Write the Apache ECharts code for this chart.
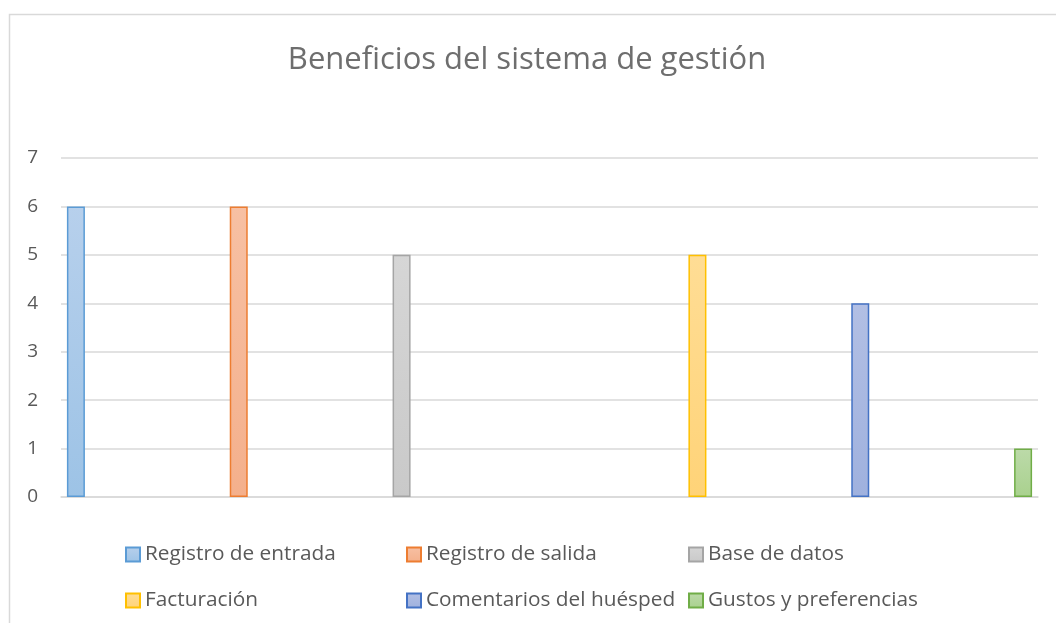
<!DOCTYPE html>
<html>
<head>
<meta charset="utf-8">
<script src="https://cdn.jsdelivr.net/npm/echarts@6/dist/echarts.min.js"></script>
<style>
html,body{margin:0;padding:0;background:#fff;}
#c{width:1056px;height:623px;}
</style>
</head>
<body>
<div id="c"></div>
<script>
const titleText = 'Beneficios del sistema de gestión';
const categories = ['c1', 'c2', 'c3', 'c4', 'c5', 'c6'];
const seriesNames = ['Registro de entrada', 'Registro de salida', 'Base de datos', 'Facturación', 'Comentarios del huésped', 'Gustos y preferencias'];
const seriesValues = [6, 6, 5, 5, 4, 1];
const yTicks = [0, 1, 2, 3, 4, 5, 6, 7];

const fillTop = ['#b7d0ec', '#f7c0a3', '#d6d6d6', '#ffdd95', '#b2bfe4', '#bcdaa9'];
const fillBot = ['#9dc3e6', '#f4b08c', '#c9c9c9', '#ffd378', '#9fb1de', '#a9d18e'];
const borders = ['#5b9bd5', '#ed7d31', '#a5a5a5', '#ffc000', '#4472c4', '#70ad47'];
const stacks = ['L', 'L', 'L', 'R', 'R', 'R'];
const legendLeft = [125, 406, 688, 125, 406, 688];
const legendTop = [544, 544, 544, 590, 590, 590];

const FONT = 'Open Sans';
const chart = echarts.init(document.getElementById('c'));

const series = seriesNames.map((name, i) => ({
  name: name,
  type: 'bar',
  stack: stacks[i],
  barWidth: 18,
  barGap: '639%',
  data: categories.map((c, j) => (j === i ? seriesValues[i] : '-')),
  itemStyle: {
    color: new echarts.graphic.LinearGradient(0, 0, 0, 1, [
      { offset: 0, color: fillTop[i] },
      { offset: 1, color: fillBot[i] }
    ]),
    borderColor: borders[i],
    borderWidth: 1.5
  }
}));

const legends = seriesNames.map((name, i) => ({
  data: [name],
  left: legendLeft[i],
  top: legendTop[i],
  padding: 0,
  itemWidth: 14,
  itemHeight: 14,
  icon: 'rect',
  textStyle: { fontFamily: FONT, fontSize: 20.8, color: '#595959' }
}));

chart.setOption({
  animation: false,
  backgroundColor: '#fff',
  title: {
    text: titleText,
    left: 522,
    textAlign: 'center',
    top: 40,
    textStyle: { fontFamily: FONT, fontSize: 31, fontWeight: 'normal', color: '#6e6e6e' }
  },
  graphic: [{
    type: 'rect',
    shape: { x: 9.5, y: 14.5, width: 1200, height: 800 },
    style: { fill: 'none', stroke: '#d9d9d9', lineWidth: 1.5 },
    silent: true,
    z: -10
  }],
  legend: legends,
  grid: { left: 61, right: 18, top: 158, bottom: 126 },
  xAxis: {
    type: 'category',
    data: categories,
    axisLine: { lineStyle: { color: '#d9d9d9', width: 1.5 } },
    axisTick: { show: false },
    axisLabel: { show: false }
  },
  yAxis: {
    type: 'value',
    min: yTicks[0],
    max: yTicks[yTicks.length - 1],
    interval: 1,
    axisLine: { show: false },
    axisTick: { show: false },
    splitLine: { lineStyle: { color: '#d9d9d9', width: 1.5 } },
    axisLabel: { fontFamily: FONT, fontSize: 19, color: '#595959', margin: 23 }
  },
  series: series
});
</script>
</body>
</html>
